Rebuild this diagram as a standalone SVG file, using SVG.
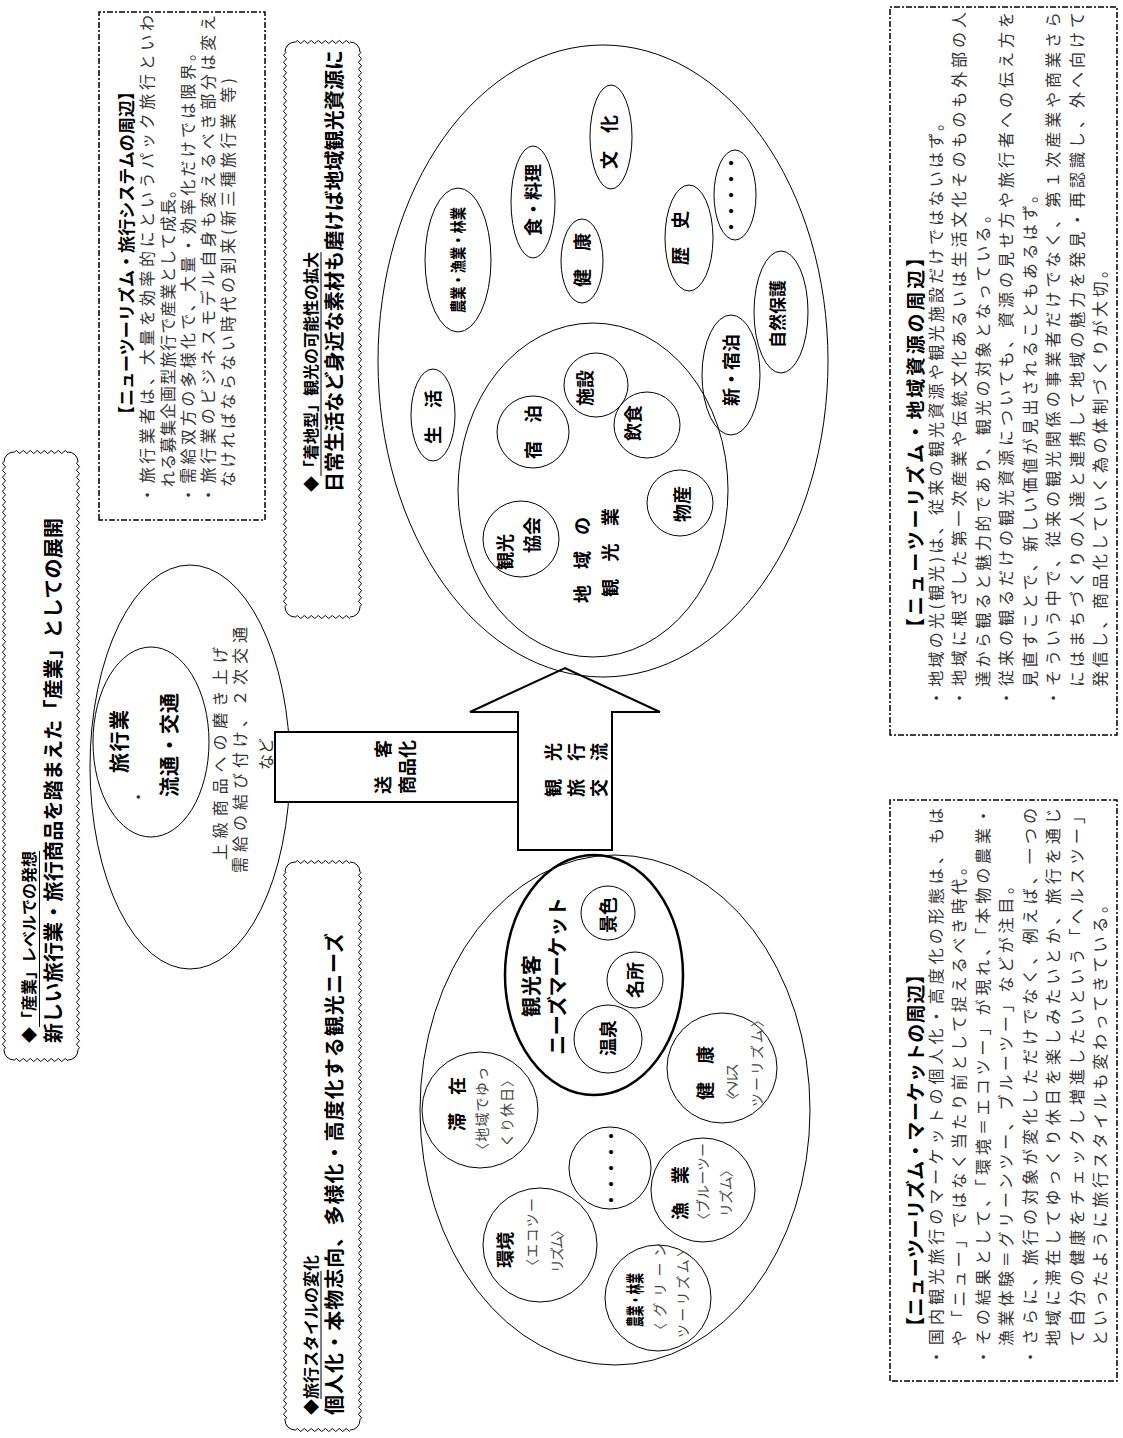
<svg xmlns="http://www.w3.org/2000/svg" width="1123" height="1438" viewBox="0 0 1123 1438">
<defs>
<style>
.h16{font-family:"Noto Sans CJK JP","Noto Sans CJK SC",sans-serif;font-weight:bold;font-size:16px;fill:#000}
.h18{font-family:"Noto Sans CJK JP","Noto Sans CJK SC",sans-serif;font-weight:bold;font-size:18px;fill:#000}
.h20{font-family:"Noto Sans CJK JP","Noto Sans CJK SC",sans-serif;font-weight:bold;font-size:20px;fill:#000}
.bd{font-family:"Noto Sans CJK JP","Noto Sans CJK SC",sans-serif;font-size:16px;fill:#333}
.sm{font-family:"Noto Sans CJK JP","Noto Sans CJK SC",sans-serif;font-size:14px;fill:#444}
.ln{fill:none;stroke:#000;stroke-width:1}
.th{fill:none;stroke:#000;stroke-width:2.5}
.ds{fill:none;stroke:#000;stroke-width:1.5;stroke-dasharray:6 2 2 2}
.ar{fill:#fff;stroke:#000;stroke-width:2}
</style>
<pattern id="wh" width="7" height="6" y="-3" patternUnits="userSpaceOnUse"><path d="M0 3Q1.75 0 3.5 3T7 3" fill="none" stroke="#000" stroke-width="1"/></pattern>
<pattern id="wv" width="6" height="7" x="-3" patternUnits="userSpaceOnUse"><path d="M3 0Q0 1.75 3 3.5T3 7" fill="none" stroke="#000" stroke-width="1"/></pattern>
</defs>
<rect width="1123" height="1438" fill="#fff"/>
<g transform="rotate(-90) translate(-1438 0)">

<!-- wavy box A -->
<g id="boxA">
<g transform="translate(378 4)">
<rect x="10" y="-3" width="588" height="6" fill="url(#wh)"/>
<g transform="translate(0 74)"><rect x="10" y="-3" width="588" height="6" fill="url(#wh)"/></g>
<rect x="-3" y="10" width="6" height="54" fill="url(#wv)"/>
<g transform="translate(608 0)"><rect x="-3" y="10" width="6" height="54" fill="url(#wv)"/></g>
<path class="ln" d="M0 10A10 10 0 0 1 10 0M598 0A10 10 0 0 1 608 10M608 64A10 10 0 0 1 598 74M10 74A10 10 0 0 1 0 64"/>
</g>
<text class="h16" x="395" y="35">◆「産業」レベルでの発想</text>
<line class="ln" x1="411" y1="39.5" x2="587" y2="39.5"/>
<text class="h20" x="395" y="61" textLength="525">新しい旅行業・旅行商品を踏まえた「産業」としての展開</text>
</g>

<!-- wavy box B -->
<g id="boxB">
<g transform="translate(821 285)">
<rect x="10" y="-3" width="555" height="6" fill="url(#wh)"/>
<g transform="translate(0 75)"><rect x="10" y="-3" width="555" height="6" fill="url(#wh)"/></g>
<rect x="-3" y="10" width="6" height="55" fill="url(#wv)"/>
<g transform="translate(575 0)"><rect x="-3" y="10" width="6" height="55" fill="url(#wv)"/></g>
<path class="ln" d="M0 10A10 10 0 0 1 10 0M565 0A10 10 0 0 1 575 10M575 65A10 10 0 0 1 565 75M10 75A10 10 0 0 1 0 65"/>
</g>
<text class="h16" x="946" y="317">◆「着地型」観光の可能性の拡大</text>
<line class="ln" x1="962" y1="321" x2="1186" y2="321"/>
<text class="h20" x="946" y="342" textLength="442">日常生活など身近な素材も磨けば地域観光資源に</text>
</g>

<!-- wavy box C -->
<g id="boxC">
<g transform="translate(8 285)">
<rect x="10" y="-3" width="548" height="6" fill="url(#wh)"/>
<g transform="translate(0 75)"><rect x="10" y="-3" width="548" height="6" fill="url(#wh)"/></g>
<rect x="-3" y="10" width="6" height="55" fill="url(#wv)"/>
<g transform="translate(568 0)"><rect x="-3" y="10" width="6" height="55" fill="url(#wv)"/></g>
<path class="ln" d="M0 10A10 10 0 0 1 10 0M558 0A10 10 0 0 1 568 10M568 65A10 10 0 0 1 558 75M10 75A10 10 0 0 1 0 65"/>
</g>
<text class="h16" x="23" y="317">◆旅行スタイルの変化</text>
<line class="ln" x1="39" y1="321" x2="167" y2="321"/>
<text class="h20" x="23" y="342" textLength="482">個人化・本物志向、多様化・高度化する観光ニーズ</text>
</g>

<!-- dashed box D -->
<g id="boxD">
<rect class="ds" x="918" y="99" width="508" height="166"/>
<text class="h16" x="1015" y="133" style="font-size:17px" textLength="340">【ニューツーリズム・旅行システムの周辺】</text>
<text class="bd" x="935" y="153" textLength="488">・旅行業者は、大量を効率的にというパック旅行といわ</text>
<text class="bd" x="951" y="174" textLength="305">れる募集企画型旅行で産業として成長。</text>
<text class="bd" x="935" y="194" textLength="458">・需給双方の多様化で、大量・効率化だけでは限界。</text>
<text class="bd" x="935" y="214" textLength="488">・旅行業のビジネスモデル自身も変えるべき部分は変え</text>
<text class="bd" x="951" y="234" textLength="409">なければならない時代の到来(新三種旅行業 等)</text>
</g>

<!-- dashed box E -->
<g id="boxE">
<rect class="ds" x="703" y="890" width="728" height="227"/>
<text class="h16" x="801" y="923" style="font-size:19px" textLength="389">【ニューツーリズム・地域資源の周辺】</text>
<text class="bd" x="732" y="942" textLength="591">・地域の光(観光)は、従来の観光資源や観光施設だけではないはず。</text>
<text class="bd" x="732" y="965" textLength="694">・地域に根ざした第一次産業や伝統文化あるいは生活文化そのものも外部の人</text>
<text class="bd" x="751" y="989" textLength="480">達から観ると魅力的であり、観光の対象となっている。</text>
<text class="bd" x="732" y="1012" textLength="694">・従来の観るだけの観光資源についても、資源の見せ方や旅行者への伝え方を</text>
<text class="bd" x="751" y="1036" textLength="500">見直すことで、新しい価値が見出されることもあるはず。</text>
<text class="bd" x="732" y="1059" textLength="694">・そういう中で、従来の観光関係の事業者だけでなく、第１次産業や商業さら</text>
<text class="bd" x="751" y="1083" textLength="675">にはまちづくりの人達と連携して地域の魅力を発見・再認識し、外へ向けて</text>
<text class="bd" x="751" y="1106" textLength="425">発信し、商品化していく為の体制づくりが大切。</text>
</g>

<!-- dashed box F -->
<g id="boxF">
<rect class="ds" x="57" y="890" width="581" height="227"/>
<text class="h16" x="102" y="923" style="font-size:19px" textLength="371">【ニューツーリズム・マーケットの周辺】</text>
<text class="bd" x="73" y="942" textLength="557">・国内観光旅行のマーケットの個人化・高度化の形態は、もは</text>
<text class="bd" x="92" y="965" textLength="487">や「ニュー」ではなく当たり前として捉えるべき時代。</text>
<text class="bd" x="73" y="989" textLength="557">・その結果として、「環境＝エコツー」が現れ、「本物の農業・</text>
<text class="bd" x="92" y="1012" textLength="468">漁業体験＝グリーンツー、ブルーツー」などが注目。</text>
<text class="bd" x="73" y="1036" textLength="557">・さらに、旅行の対象が変化しただけでなく、例えば、一つの</text>
<text class="bd" x="92" y="1059" textLength="538">地域に滞在してゆっくり休日を楽しみたいとか、旅行を通じ</text>
<text class="bd" x="92" y="1083" textLength="538">て自分の健康をチェックし増進したいという「ヘルスツー」</text>
<text class="bd" x="92" y="1106" textLength="449">といったように旅行スタイルも変わってきている。</text>
</g>

<!-- industry ellipse -->
<g id="industry">
<ellipse class="ln" cx="671" cy="190" rx="202" ry="100"/>
<ellipse class="ln" cx="696" cy="151" rx="95" ry="58"/>
<text class="h20" x="665" y="127" textLength="63">旅行業</text>
<text class="bd" x="633" y="144">・</text>
<text class="h20" x="641" y="177" textLength="104">流通・交通</text>
<text class="bd" x="578" y="226" textLength="213">上級商品への磨き上げ</text>
<text class="bd" x="565" y="246" textLength="246">需給の結び付け、２次交通</text>
<text class="bd" x="668" y="272">など</text>
</g>

<!-- connectors -->
<g id="connectors">
<path class="ar" d="M726 470L770 565L726 660L726 612L588 612L588 518L726 518Z"/>
<rect class="ar" x="636" y="275" width="70" height="243"/>
<text class="h18" x="671" y="390" text-anchor="middle">送　客</text>
<text class="h18" x="671" y="414" text-anchor="middle">商品化</text>
<text class="h18" x="668" y="560" text-anchor="middle">観　光</text>
<text class="h18" x="668" y="583" text-anchor="middle">旅　行</text>
<text class="h18" x="668" y="606" text-anchor="middle">交　流</text>
</g>

<!-- regional ellipse -->
<g id="regional">
<ellipse class="ln" cx="1077" cy="603" rx="316" ry="225"/>
<ellipse class="ln" cx="948" cy="593" rx="167" ry="135"/>
<text class="h18" x="835" y="589" textLength="86">地域の</text>
<text class="h18" x="841" y="617" textLength="89">観光業</text>
</g>
<g id="kyokai"><circle class="ln" cx="899" cy="521" r="38"/><text class="h18" x="868" y="512">観光</text><text class="h18" x="885" y="539">協会</text></g>
<g id="shukuhaku"><circle class="ln" cx="1006" cy="533" r="36"/><text class="h18" x="1006" y="540" text-anchor="middle">宿　泊</text></g>
<g id="shisetsu"><circle class="ln" cx="1053" cy="596" r="32"/><text class="h18" x="1050" y="592" text-anchor="middle">施設</text></g>
<g id="inshoku"><circle class="ln" cx="1013" cy="647" r="33"/><text class="h18" x="1015" y="640" text-anchor="middle">飲食</text></g>
<g id="bussan"><circle class="ln" cx="935" cy="680" r="33"/><text class="h18" x="934" y="689" text-anchor="middle">物産</text></g>
<g id="seikatsu"><ellipse class="ln" cx="1023" cy="433" rx="46" ry="22"/><text class="h18" x="1021" y="440" text-anchor="middle">生　活</text></g>
<g id="nogyo1"><ellipse class="ln" cx="1178" cy="458" rx="72" ry="33"/><text class="h16" x="1125" y="464" textLength="106" lengthAdjust="spacingAndGlyphs">農業・漁業・林業</text></g>
<g id="shoku"><ellipse class="ln" cx="1236" cy="533" rx="56" ry="22"/><text class="h18" x="1238" y="540" text-anchor="middle">食・料理</text></g>
<g id="kenko1"><ellipse class="ln" cx="1177" cy="582" rx="42" ry="21"/><text class="h18" x="1178" y="589" text-anchor="middle">健　康</text></g>
<g id="bunka"><ellipse class="ln" cx="1301" cy="611" rx="52" ry="21"/><text class="h18" x="1296" y="616" text-anchor="middle">文　化</text></g>
<g id="rekishi"><ellipse class="ln" cx="1200" cy="689" rx="53" ry="24"/><text class="h18" x="1200" y="687" text-anchor="middle">歴　史</text></g>
<g id="etc1"><ellipse class="ln" cx="1243" cy="735" rx="45" ry="21"/><text class="h16" x="1243" y="737" text-anchor="middle">・・・・・</text></g>
<g id="shizen"><ellipse class="ln" cx="1126" cy="781" rx="61" ry="27"/><text class="h16" x="1124" y="784" text-anchor="middle" style="font-size:17px">自然保護</text></g>
<g id="shinshuku"><ellipse class="ln" cx="1063" cy="731" rx="60" ry="29"/><text class="h18" x="1068" y="738" text-anchor="middle">新・宿泊</text></g>

<!-- travel-style ellipse -->
<g id="style">
<ellipse class="ln" cx="328" cy="615" rx="255" ry="195"/>
</g>
<g id="market">
<ellipse class="th" cx="463" cy="594" rx="120" ry="89"/>
<text class="h20" x="421" y="539" textLength="62">観光客</text>
<text class="h20" x="383" y="565" textLength="158">ニーズマーケット</text>
</g>
<g id="keshiki"><circle class="ln" cx="525" cy="608" r="27"/><text class="h18" x="523" y="615" text-anchor="middle">景色</text></g>
<g id="meisho"><circle class="ln" cx="458" cy="635" r="28"/><text class="h18" x="458" y="642" text-anchor="middle">名所</text></g>
<g id="onsen"><circle class="ln" cx="399" cy="608" r="34"/><text class="h18" x="400" y="615" text-anchor="middle">温泉</text></g>
<g id="taizai"><circle class="ln" cx="328" cy="480" r="58"/><text class="h18" x="334" y="464" text-anchor="middle">滞　在</text><text class="sm" x="281" y="487" textLength="90">〈地域でゆっ</text><text class="sm" x="291" y="512" textLength="74">くり休日〉</text></g>
<g id="etc2"><circle class="ln" cx="270" cy="610" r="41"/><text class="h16" x="270" y="617" text-anchor="middle">・・・・・</text></g>
<g id="gyogyo"><circle class="ln" cx="248" cy="703" r="52"/><text class="h18" x="245" y="687" text-anchor="middle">漁　業</text><text class="sm" x="211" y="708" textLength="84">〈ブルーツー</text><text class="sm" x="221" y="731" textLength="54">リズム〉</text></g>
<g id="kenko2"><circle class="ln" cx="370" cy="722" r="55"/><text class="h18" x="365" y="712" text-anchor="middle">健　康</text><text class="sm" x="331" y="737" textLength="44">〈ヘルス</text><text class="sm" x="331" y="762" textLength="94">ツーリズム〉</text></g>
<g id="nogyo2"><circle class="ln" cx="140" cy="658" r="53"/><text class="h18" x="111" y="642" textLength="54" lengthAdjust="spacingAndGlyphs">農業・林業</text><text class="sm" x="101" y="665" textLength="94">〈グリーン</text><text class="sm" x="100" y="688" textLength="95">ツーリズム〉</text></g>
<g id="kankyo"><circle class="ln" cx="193" cy="540" r="57"/><text class="h18" x="170" y="512">環境</text><text class="sm" x="165" y="537" textLength="75">〈エコツー</text><text class="sm" x="165" y="562" textLength="50">リズム〉</text></g>

</g>
</svg>
